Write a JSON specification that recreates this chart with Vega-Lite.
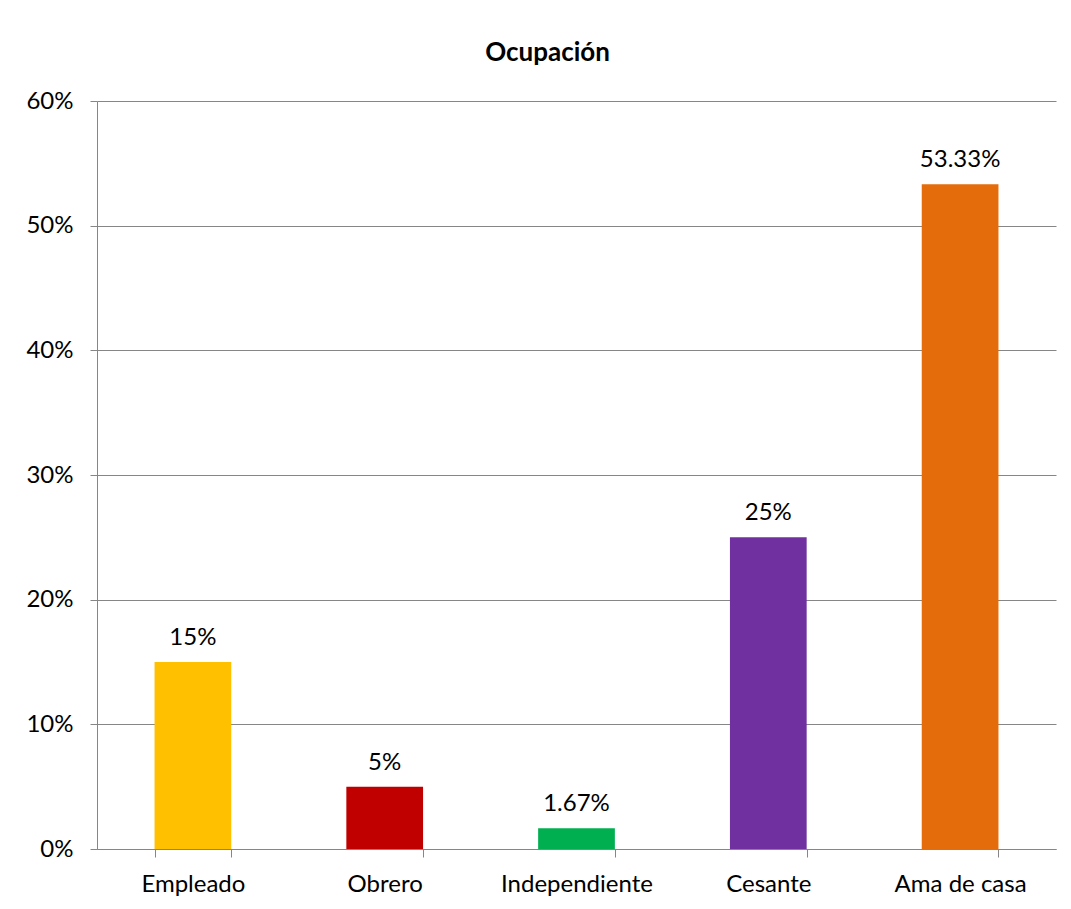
{
  "$schema": "https://vega.github.io/schema/vega-lite/v6.json",
  "width": 959,
  "height": 748,
  "autosize": {"type": "none"},
  "padding": {"left": 97, "top": 101, "right": 15, "bottom": 60},
  "background": "white",
  "title": {"text": "Ocupación", "font": "Lato", "fontSize": 26, "fontWeight": "bold", "color": "#000000", "anchor": "middle", "dx": -29, "offset": 23},
  "data": {"values": [
    {"cat": "Empleado", "v": 0.15, "label": "15%"},
    {"cat": "Obrero", "v": 0.05, "label": "5%"},
    {"cat": "Independiente", "v": 0.0167, "label": "1.67%"},
    {"cat": "Cesante", "v": 0.25, "label": "25%"},
    {"cat": "Ama de casa", "v": 0.5333, "label": "53.33%"}
  ]},
  "encoding": {
    "x": {"field": "cat", "type": "nominal", "sort": null,
      "scale": {"paddingInner": 0.6, "paddingOuter": 0.3},
      "axis": {"title": null, "labelAngle": 0, "labelFont": "Lato", "labelFontSize": 24, "labelColor": "#000000", "tickBand": "extent", "tickSize": 8, "tickColor": "#868686", "domainColor": "#868686", "labelPadding": 15, "grid": false}},
    "y": {"field": "v", "type": "quantitative",
      "scale": {"domain": [0, 0.6]},
      "axis": {"title": null, "format": ".0%", "values": [0, 0.1, 0.2, 0.3, 0.4, 0.5, 0.6], "labelFont": "Lato", "labelFontSize": 24, "labelColor": "#000000", "tickSize": 7, "tickColor": "#868686", "domainColor": "#868686", "gridColor": "#868686", "gridOpacity": 1, "labelPadding": 17}}
  },
  "layer": [
    {"mark": {"type": "bar"},
      "encoding": {"color": {"field": "cat", "type": "nominal", "sort": null, "legend": null,
        "scale": {"domain": ["Empleado", "Obrero", "Independiente", "Cesante", "Ama de casa"], "range": ["#FFC000", "#C00000", "#00B050", "#7030A0", "#E46C0A"]}}}},
    {"mark": {"type": "text", "baseline": "bottom", "dy": -12, "font": "Lato", "fontSize": 24, "color": "#000000"},
      "encoding": {"text": {"field": "label"}}}
  ],
  "config": {"view": {"stroke": null}}
}
